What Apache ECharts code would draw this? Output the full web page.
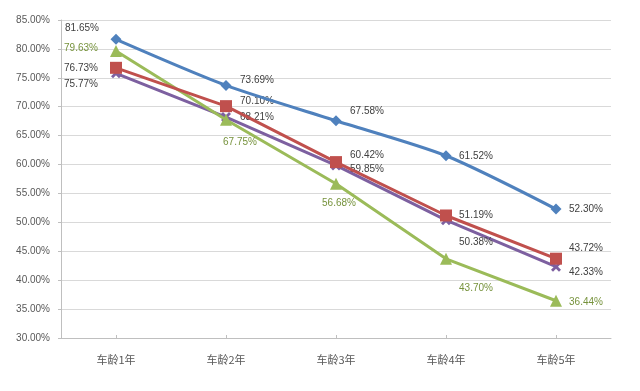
<!DOCTYPE html>
<html><head><meta charset="utf-8">
<script src="https://cdn.jsdelivr.net/npm/echarts@6/dist/echarts.min.js"></script>
<style>html,body{margin:0;padding:0;background:#fff}#c{width:640px;height:391px}</style>
</head><body><div id="c"></div>
<script>
var categories = ['车龄1年','车龄2年','车龄3年','车龄4年','车龄5年'];
var seriesNames = ['系列1','系列2','系列3','系列4'];
var blueValues   = [81.65, 73.69, 67.58, 61.52, 52.30];
var redValues    = [76.73, 70.10, 60.42, 51.19, 43.72];
var purpleValues = [75.77, 68.21, 59.85, 50.38, 42.33];
var greenValues  = [79.63, 67.75, 56.68, 43.70, 36.44];
var yMin = 30, yMax = 85, yStep = 5;

// label placement offsets (styling only)
var blueOff   = [[-34,-11],[31,-5],[31,-9],[30,0],[30,0]];
var redOff    = [[-35,0],[31,-5],[31,-7],[30,0],[30,-10]];
var purpleOff = [[-35,11],[31,0],[31,4],[30,22],[30,6]];
var greenOff  = [[-35,-3],[14,23],[3,20],[30,29],[30,1]];

var FONT = '"Liberation Sans", Arial, sans-serif';
function build(vals, offs, col){
  return vals.map(function(v,i){
    return {value:v, label:{show:true, position:'inside', offset:offs[i],
      formatter:function(p){return p.value.toFixed(2)+'%';},
      color:col, fontSize:10, fontFamily:FONT}};
  });
}
var xPath = 'path://M0,2L2,0L5,3L8,0L10,2L7,5L10,8L8,10L5,7L2,10L0,8L3,5Z';
function mk(name, vals, offs, color, symbol, size, labelCol, smooth, z){
  return {name:name, type:'line', data:build(vals, offs, labelCol), smooth:smooth,
    symbol:symbol, symbolSize:size, z:z,
    lineStyle:{color:color, width:3}, itemStyle:{color:color},
    emphasis:{disabled:true}};
}
var chart = echarts.init(document.getElementById('c'), null, {renderer:'canvas'});
chart.setOption({
  animation:false,
  backgroundColor:'#fff',
  grid:{left:61, right:29, top:20, bottom:53},
  xAxis:{type:'category', data:categories, boundaryGap:true,
    axisLine:{lineStyle:{color:'#bfbfbf', width:1}},
    axisTick:{show:true, alignWithLabel:true, inside:true, length:3, lineStyle:{color:'#bfbfbf'}},
    axisLabel:{color:'#595959', fontSize:11, margin:16, fontFamily:'"Noto Sans CJK SC", sans-serif'}},
  yAxis:{type:'value', min:yMin, max:yMax, interval:yStep,
    axisLine:{show:true, lineStyle:{color:'#bfbfbf'}},
    axisTick:{show:true, length:3, lineStyle:{color:'#bfbfbf'}},
    splitLine:{lineStyle:{color:'#d9d9d9'}},
    axisLabel:{color:'#595959', fontSize:10, margin:11, fontFamily:FONT,
      formatter:function(v){return v.toFixed(2)+'%';}}},
  series:[
    mk(seriesNames[3], purpleValues, purpleOff, '#7d60a0', xPath, 10, '#404040', false, 2),
    mk(seriesNames[2], greenValues, greenOff, '#9bbb59', 'triangle', 12, '#76923c', false, 3),
    mk(seriesNames[1], redValues, redOff, '#c0504d', 'rect', 12, '#404040', false, 4),
    mk(seriesNames[0], blueValues, blueOff, '#4f81bd', 'diamond', 11, '#404040', 0.25, 5)
  ]
});
</script></body></html>
